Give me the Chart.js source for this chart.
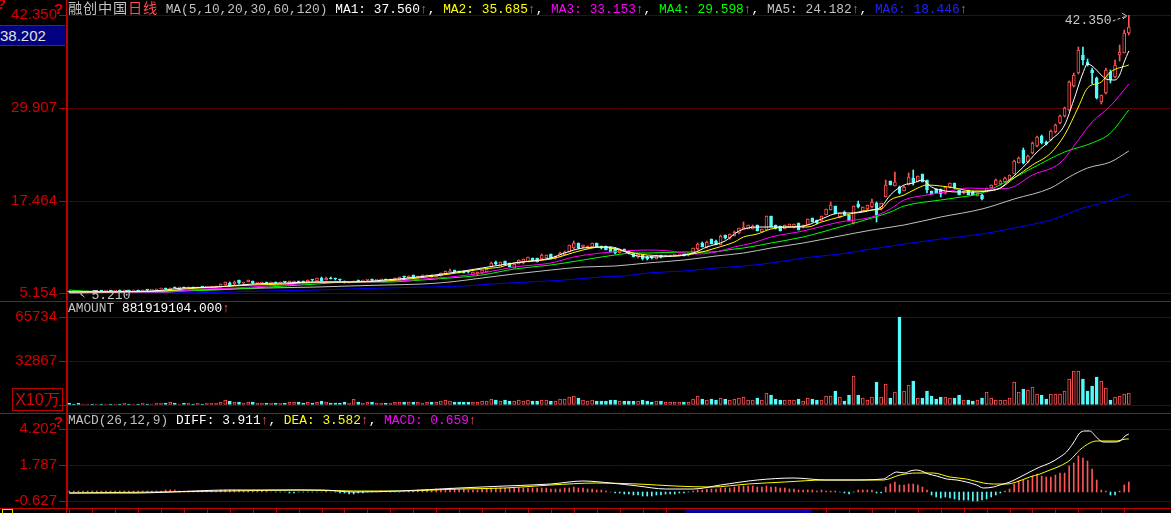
<!DOCTYPE html>
<html><head><meta charset="utf-8">
<script src="https://cdn.jsdelivr.net/npm/chart.js@4.4.1/dist/chart.umd.min.js"></script>
<style>
html,body{margin:0;padding:0;background:#000;}
body{width:1171px;height:513px;overflow:hidden;position:relative;}
canvas{position:absolute;left:0;}
.t{position:absolute;white-space:pre;font-size:12.85px;line-height:14px;font-family:"Liberation Mono","DejaVu Sans Mono",monospace;color:#c0c0c0;}
.cjk{font-family:"Noto Sans CJK SC";font-size:14.2px;letter-spacing:0.8px;}
.hl{position:absolute;left:0;width:1171px;height:1px;background:#c00000;}
.r{color:#ff5050}.w{color:#ffffff}.y{color:#ffff00}.m{color:#ff00ff}.g{color:#00ff00}.s{color:#c0c0c0}.b{color:#2020ff}
.q{position:absolute;color:#e00000;font:bold 15px "Liberation Sans";}
</style></head><body>
<canvas id="cMain" width="1171" height="301" style="top:0px"></canvas>
<canvas id="cVol" width="1171" height="112" style="top:301px"></canvas>
<canvas id="cMacd" width="1171" height="100" style="top:413px"></canvas>

<div class="hl" style="top:301px"></div>
<div class="hl" style="top:413px"></div>
<div class="hl" style="top:508px"></div>
<div style="position:absolute;left:66px;top:0;width:1px;height:513px;background:#c00000"></div>

<div class="t" style="left:68px;top:0px"><span class="cjk s">融创中国</span><span class="cjk r">日线</span><span class="s"> MA(5,10,20,30,60,120) </span><span class="w">MA1: 37.560</span><span class="r">↑</span><span class="w">, </span><span class="y">MA2: 35.685</span><span class="r">↑</span><span class="w">, </span><span class="m">MA3: 33.153</span><span class="r">↑</span><span class="w">, </span><span class="g">MA4: 29.598</span><span class="r">↑</span><span class="w">, </span><span class="s">MA5: 24.182</span><span class="r">↑</span><span class="w">, </span><span class="b">MA6: 18.446</span><span class="r">↑</span></div>
<div class="t" style="left:68px;top:302px"><span class="s">AMOUNT </span><span class="w">881919104.000</span><span class="r">↑</span></div>
<div class="t" style="left:68px;top:414px"><span class="s">MACD(26,12,9) </span><span class="w">DIFF: 3.911</span><span class="r">↑</span><span class="w">, </span><span class="y">DEA: 3.582</span><span class="r">↑</span><span class="w">, </span><span class="m">MACD: 0.659</span><span class="r">↑</span></div>

<div style="position:absolute;left:0;top:25px;width:65px;height:19px;background:#000080;border-top:1px solid #c00000;border-bottom:1px solid #c00000;color:#e0e0e0;font:15px 'Liberation Sans';line-height:19px;">38.202</div>
<div style="position:absolute;left:12px;top:388px;width:49px;height:21px;border:1px solid #c00000;color:#e00000;font:16px 'Liberation Sans';line-height:21px;text-align:center;">X10万</div>
<div class="q" style="left:-3px;top:-5px">?</div>
<div class="q" style="left:54px;top:0px">?</div>
<div class="q" style="left:54px;top:413px">?</div>
<div style="position:absolute;left:685px;top:509px;width:127px;height:4px;background:#0000a0"></div>
<div style="position:absolute;left:2px;top:509px;width:9px;height:6px;border:1px solid #e0e000"></div>
<div id="hiLab" class="t" style="font-size:13px;color:#c8c8c8"></div>
<div id="loLab" class="t" style="font-size:13px;color:#c8c8c8"></div>

<script>
// ---------------- DATA ----------------
const priceTicks = [42.350, 29.907, 17.464, 5.154];
const volTicks = [65734, 32867, 0];
const macdTicks = [4.202, 1.787, -0.627];

// daily candles [open, high, low, close]
const candles = [
[5.35,5.38,5.28,5.30],[5.30,5.34,5.24,5.28],[5.28,5.31,5.21,5.26],[5.26,5.35,5.25,5.33],[5.33,5.38,5.30,5.36],
[5.36,5.40,5.32,5.34],[5.34,5.42,5.33,5.40],[5.40,5.44,5.36,5.38],[5.38,5.45,5.37,5.43],[5.43,5.46,5.39,5.41],
[5.41,5.47,5.40,5.45],[5.45,5.50,5.42,5.44],[5.44,5.55,5.43,5.52],[5.52,5.56,5.46,5.48],[5.48,5.53,5.45,5.50],
[5.50,5.54,5.44,5.46],[5.46,5.55,5.45,5.53],[5.53,5.58,5.48,5.50],[5.50,5.60,5.49,5.58],[5.58,5.70,5.56,5.68],
[5.68,5.78,5.66,5.75],[5.75,5.78,5.68,5.70],[5.70,5.88,5.69,5.85],[5.85,5.90,5.80,5.83],[5.83,5.92,5.82,5.88],
[5.88,5.93,5.84,5.86],[5.86,5.95,5.85,5.91],[5.91,5.94,5.85,5.87],[5.87,5.98,5.86,5.95],[5.95,5.99,5.90,5.92],
[5.92,5.98,5.90,5.96],[5.96,6.02,5.92,5.98],[5.98,6.05,5.95,6.00],[6.00,6.35,5.98,6.32],[6.22,6.62,6.20,6.58],
[6.55,6.60,6.10,6.15],[6.30,6.70,6.28,6.67],[6.85,6.90,6.42,6.45],[6.45,6.60,6.42,6.55],[6.65,6.92,6.60,6.88],
[6.78,6.80,6.42,6.45],[6.45,6.55,6.40,6.50],[6.35,6.60,6.30,6.58],[6.58,6.62,6.48,6.52],[6.52,6.60,6.50,6.56],
[6.56,6.60,6.50,6.53],[6.53,6.62,6.52,6.60],[6.60,6.64,6.55,6.57],[6.40,6.80,6.38,6.76],[6.45,6.78,6.42,6.74],
[6.76,6.80,6.44,6.48],[6.74,6.78,6.55,6.60],[6.60,6.92,6.58,6.88],[6.88,6.95,6.82,6.85],[6.78,7.15,6.75,7.10],
[7.20,7.25,6.78,6.80],[6.90,7.25,6.88,7.22],[7.22,7.26,7.05,7.08],[7.08,7.12,6.95,6.98],[6.98,7.00,6.82,6.85],
[6.75,6.78,6.55,6.58],[6.50,6.66,6.45,6.62],[6.62,6.75,6.60,6.72],[6.88,6.90,6.74,6.76],[6.76,6.88,6.74,6.85],
[6.85,6.95,6.82,6.92],[7.02,7.05,6.82,6.85],[6.85,6.95,6.83,6.90],[6.90,6.98,6.86,6.95],[6.95,7.00,6.90,6.93],
[6.93,7.05,6.92,7.02],[6.90,7.15,6.88,7.12],[6.95,7.26,6.92,7.24],[7.40,7.45,7.20,7.24],[7.22,7.45,7.20,7.42],
[7.56,7.60,7.10,7.14],[7.12,7.48,7.10,7.43],[7.43,7.50,7.38,7.46],[7.40,7.55,7.38,7.50],[7.52,7.56,7.30,7.34],
[7.34,7.48,7.32,7.45],[7.43,7.82,7.40,7.79],[7.70,8.12,7.68,8.10],[8.00,8.32,7.98,8.10],[8.23,8.26,7.98,8.00],
[8.10,8.14,7.84,7.87],[8.10,8.12,7.85,7.87],[8.10,8.13,7.88,7.90],[7.56,8.02,7.54,8.00],[7.65,8.03,7.62,8.00],
[7.79,8.26,7.76,8.23],[8.00,8.40,7.98,8.37],[8.67,9.30,8.65,9.21],[9.34,9.40,8.95,8.99],[8.81,9.30,8.78,9.26],
[9.43,9.48,8.96,8.99],[9.13,9.16,8.62,8.67],[8.54,9.02,8.50,8.99],[9.03,9.60,9.00,9.57],[9.13,9.70,9.10,9.66],
[9.34,9.96,9.30,9.93],[9.79,9.84,9.45,9.48],[9.79,9.82,9.30,9.34],[9.66,10.40,9.62,10.24],[9.88,10.28,9.85,10.24],
[10.33,10.38,9.75,9.79],[9.79,10.14,9.76,10.10],[10.01,10.60,9.98,10.55],[10.24,10.72,10.20,10.68],[10.68,11.62,10.65,11.58],
[11.13,12.10,11.10,11.89],[11.80,11.90,11.08,11.13],[11.27,11.58,11.22,11.53],[11.13,11.50,11.10,11.44],[11.27,11.85,11.24,11.80],
[11.80,11.86,11.30,11.35],[11.44,11.48,11.08,11.13],[11.44,11.50,10.86,10.91],[11.27,11.32,10.62,10.68],[11.13,11.18,10.40,10.46],
[10.55,11.05,10.50,11.00],[11.00,11.04,10.72,10.77],[10.77,10.80,10.42,10.46],[10.46,10.50,9.96,10.01],[9.93,10.38,9.90,10.33],
[10.24,10.28,9.60,9.66],[10.01,10.06,9.62,9.66],[10.10,10.14,9.74,9.79],[9.74,10.30,9.70,10.24],[10.24,10.28,9.88,9.93],
[10.10,10.20,10.05,10.15],[10.10,10.24,10.06,10.20],[10.20,10.30,10.15,10.25],[10.20,10.34,10.16,10.30],[10.37,10.40,10.06,10.10],
[10.20,10.40,10.16,10.35],[10.55,11.18,10.50,11.13],[11.00,11.90,10.96,11.71],[11.89,11.95,11.30,11.35],[11.27,12.08,11.22,12.02],
[12.34,12.40,11.66,11.71],[12.15,12.20,11.52,11.58],[11.58,12.90,11.54,12.84],[12.91,12.96,12.42,12.47],[12.47,13.10,12.42,13.05],
[12.78,13.40,12.74,13.32],[13.14,13.86,13.10,13.81],[13.72,14.70,13.68,14.03],[13.72,14.30,13.68,14.25],[13.72,14.20,13.68,14.16],
[14.25,14.30,13.40,13.45],[13.36,13.76,13.32,13.72],[13.58,15.50,13.54,15.46],[15.46,15.52,13.98,14.03],[14.25,14.30,13.76,13.81],
[14.12,14.16,13.44,13.49],[13.72,14.30,13.68,14.25],[14.03,14.40,14.00,14.35],[13.94,14.40,13.90,14.35],[14.48,14.52,13.54,13.58],
[13.94,14.20,13.90,14.16],[14.25,15.06,14.20,15.02],[15.15,15.20,14.66,14.70],[14.92,14.96,14.44,14.48],[14.83,15.50,14.80,15.46],
[15.59,16.40,15.55,16.35],[16.26,17.30,16.22,16.93],[16.79,16.84,15.68,15.73],[15.28,15.86,15.24,15.82],[16.03,16.08,15.54,15.59],
[15.59,15.64,14.78,14.83],[14.48,16.84,14.44,16.79],[17.06,17.40,16.58,16.62],[16.17,16.66,16.12,16.62],[16.35,16.98,16.30,16.93],
[16.62,17.70,16.58,17.37],[17.24,17.30,14.70,15.59],[16.35,17.20,16.30,17.15],[18.04,20.27,18.00,19.60],[20.14,20.20,19.56,19.60],
[19.51,21.38,19.46,20.05],[19.38,19.45,18.45,18.60],[18.80,19.42,18.76,19.38],[19.60,21.17,19.56,20.72],[20.50,21.61,19.60,19.83],
[20.05,20.86,20.00,20.81],[21.03,21.10,20.00,20.05],[20.27,20.32,18.58,18.93],[18.80,18.85,18.36,18.40],[19.03,19.08,18.54,18.58],
[19.03,19.08,18.04,18.40],[18.49,19.34,18.45,19.29],[19.29,19.88,19.25,19.83],[19.83,19.88,19.12,19.16],[18.93,18.98,18.22,18.27],
[18.49,18.85,18.45,18.80],[18.93,18.98,18.22,18.27],[18.70,18.75,18.22,18.27],[18.13,18.54,18.10,18.49],[18.30,18.35,17.60,17.70],
[18.70,19.25,18.65,19.20],[19.20,19.65,19.15,19.60],[19.60,20.35,19.55,20.30],[19.70,20.25,19.65,20.20],[20.00,20.65,19.95,20.60],
[20.30,20.95,20.25,20.90],[21.10,22.90,21.05,22.80],[22.60,23.30,22.50,23.20],[24.30,24.60,22.40,22.50],[22.70,23.60,22.60,23.50],
[23.90,25.30,23.80,25.20],[24.80,26.20,24.70,26.00],[26.20,26.30,25.10,25.20],[25.40,25.50,25.00,25.10],[25.60,26.90,25.50,26.80],
[26.70,27.70,26.60,27.60],[27.90,29.00,27.80,28.90],[28.80,30.00,28.70,29.90],[29.60,33.50,29.50,33.40],[32.90,34.60,32.70,34.30],
[34.60,38.10,34.40,37.70],[37.00,38.10,35.70,36.30],[36.10,36.40,35.50,35.70],[35.00,35.20,33.10,34.60],[33.90,34.10,31.10,31.30],
[30.70,31.70,30.40,31.60],[31.90,35.20,31.80,35.00],[34.70,35.00,33.20,33.70],[34.00,36.30,33.90,35.70],[37.00,38.30,36.20,37.40],
[37.30,40.40,37.20,39.90],[39.90,42.35,39.70,40.70]
];

// turnover (x10万)
const amount = [
1200,900,1500,800,700,900,1100,800,700,1000,
800,900,1300,900,700,1000,1200,800,900,1500,
1800,1200,2000,1300,1100,1500,1200,1000,1400,1100,
1200,1500,1300,2500,3700,2800,2500,2000,1800,2200,
2300,1500,1800,1400,1200,1300,1500,1200,2500,2200,
2000,1800,2000,1700,2600,3000,2500,1800,1500,1400,
2200,1800,4500,2500,1800,2000,2200,1600,1500,1400,
1800,2200,2500,2000,2200,2600,2400,1800,2000,1900,
2000,3000,3500,2800,2200,2000,1900,2000,2500,2400,
2800,3000,4500,3500,3200,3800,3000,2800,3500,3300,
3500,3000,2800,4000,3500,3000,3200,4500,4200,6000,
6500,5000,3500,3200,3800,3000,2800,3000,3500,3800,
3200,2800,3000,3300,3000,3500,3000,2500,2800,2700,
2200,2000,2200,2000,2500,2300,4500,6500,4500,4000,
4200,3800,5500,4200,4000,4200,5000,6000,4000,3800,
5000,3500,9000,7500,4500,4000,3800,3500,3600,4500,
3200,5500,4500,4000,3510,6500,7000,10230,5750,2760,
7250,21440,7250,5000,3510,5750,16960,5750,15460,5000,
9490,66000,10230,14720,17700,5000,5000,10230,6500,4260,
5750,5750,5000,5000,7250,3510,3510,2760,3510,5000,
9490,5000,3510,3510,3510,5000,16960,9490,11730,10980,
13220,7990,7250,4260,7990,7990,7990,10230,19200,25170,
25170,19200,10230,13970,20690,17700,12470,3510,5750,6500,
7990,8740
];

// MACD histogram
const macdHist = [
0.02,0.03,0.02,0.03,0.04,0.03,0.03,0.04,0.03,0.02,0.03,0.04,0.05,0.04,0.03,0.04,0.05,0.04,0.05,0.06,
0.07,0.08,0.09,0.08,0.07,0.06,0.06,0.05,0.05,0.04,0.04,0.05,0.06,0.08,0.10,0.10,0.09,0.08,0.07,0.06,0.05,0.04,0.03,0.02,0.01,
-0.02,-0.04,-0.05,-0.06,-0.06,-0.05,-0.04,-0.03,-0.02,-0.01,0.01,0.02,0.01,-0.03,-0.08,-0.12,-0.14,-0.13,-0.12,-0.08,-0.05,-0.03,
0.00,0.02,0.01,-0.02,-0.04,-0.02,0.01,0.04,0.06,0.08,0.10,0.12,
0.14,0.16,0.18,0.20,0.22,0.20,0.18,0.15,0.13,0.12,0.14,0.16,0.20,0.24,0.25,0.26,0.24,0.22,0.22,0.24,0.25,
0.26,0.24,0.22,0.23,0.22,0.20,0.19,0.20,0.22,0.28,0.32,0.28,0.24,0.20,0.18,0.14,0.10,0.05,0.00,-0.06,
-0.10,-0.14,-0.18,-0.22,-0.24,-0.26,-0.27,-0.26,-0.24,-0.22,-0.19,-0.16,-0.13,-0.10,-0.07,-0.03,
0.04,0.10,0.14,0.18,0.20,0.20,0.24,0.26,0.28,0.32,0.35,0.37,0.38,0.36,0.34,0.33,0.36,0.34,0.30,0.26,0.22,0.20,0.18,0.14,0.10,0.10,0.08,0.06,0.08,0.07,0.04,0.02,-0.05,-0.10,
-0.16,-0.05,0.11,0.09,0.11,0.11,-0.09,-0.09,0.32,0.52,0.68,0.45,0.47,0.52,0.52,0.45,0.32,0.14,-0.23,-0.34,
-0.41,-0.38,-0.45,-0.50,-0.54,-0.56,-0.59,-0.61,-0.61,-0.59,-0.50,-0.38,-0.23,-0.09,0.07,0.18,0.52,0.74,0.81,0.81,
1.04,1.19,1.08,0.97,1.01,1.13,1.24,1.26,1.76,1.94,2.39,2.30,2.10,1.53,0.81,0.14,0.02,-0.20,-0.20,0.07,
0.45,0.66
];

// DIFF / DEA read at sample days
const diffX = [0,15,22,35,45,55,62,72,85,95,105,112,118,124,130,136,142,150,158,165,170,177.5,179,180.4,182.2,183.3,184.7,185.8,187.3,189.1,191.3,193.5,195.6,197.8,199.3,201.5,202.9,205.1,207.3,209.4,211.6,213.8,216,217.4,218.9,220.3,221.4,222.5,223.9,225.4,227.6,229.1,230.2,231];
const diffY = [-0.12,-0.10,0.0,0.12,0.10,0.08,-0.05,0.05,0.25,0.40,0.55,0.72,0.60,0.35,0.20,0.20,0.45,0.80,0.90,0.80,0.77,0.88,1.15,1.31,1.27,1.40,1.49,1.40,1.22,1.04,0.88,0.82,0.66,0.43,0.28,0.32,0.43,0.66,1.00,1.33,1.67,1.94,2.35,2.69,3.25,3.93,4.11,4.11,3.70,3.36,3.32,3.41,3.77,3.91];
const deaX = [0,20,35,50,62,72,85,95,105,115,124,132,140,148,156,165,170.2,177.5,181.1,184.7,188.4,192,195.6,199.3,201.5,204.4,206.5,209.4,211.6,213.8,216,218.2,220.3,222.5,224,226.9,228.3,230.5,231];
const deaY = [-0.12,-0.05,0.07,0.09,0.02,0.03,0.15,0.28,0.43,0.58,0.50,0.35,0.32,0.50,0.68,0.78,0.82,0.82,1.11,1.29,1.27,1.00,0.88,0.61,0.50,0.50,0.66,1.00,1.22,1.45,1.72,2.12,2.80,3.25,3.43,3.43,3.43,3.52,3.58];

// moving averages read at sample days
const ma1X = [0,18,25,32,40,47,54,61,69,76,83,90,94,97,105,108,112,118,123,126,132,136,139,143,146,150,153,157,161,164,168,171,175,177,179,182,184,186,188,191,194,198,200,203,205,208,211,214,217,219,221,222,223,225,226,228,229,230,231];
const ma1Y = [5.33,5.42,5.78,6.0,6.32,6.45,6.58,6.67,6.89,7.3,7.87,8.46,8.9,9.21,9.79,10.46,11.13,11.27,10.24,9.93,10.1,10.55,11.27,12.15,13.4,14.03,14.03,14.03,14.25,15.02,15.9,15.9,16.26,16.7,18.27,19.6,19.9,20.27,19.38,18.84,18.71,18.7,18.8,19.16,20.27,22.06,24.06,25.63,27.63,30.98,34.55,35.79,35.53,34.32,33.74,33.65,34.32,36.1,37.56];
const ma2X = [0,21,25,32,40,47,54,61,69,76,83,90,94,97,105,112,116,119,123,126,132,137,141,145,147,150,153,157,161,164,168,171,175,177,179,182,185,187,190,193,197,200,203,206,210,214,217,220,222,225,227,231];
const ma2Y = [5.33,5.46,5.64,5.91,6.22,6.4,6.58,6.67,6.8,7.15,7.7,8.32,8.67,9.13,9.66,10.91,11.27,11.0,10.55,10.24,10.1,10.46,11.13,12.02,12.6,13.1,13.72,14.03,14.03,14.7,15.28,15.82,16.26,16.35,17.6,18.27,19.16,19.6,19.47,19.16,18.75,18.8,19.2,20.6,22.3,23.85,26.29,30.08,32.54,33.43,34.77,35.69];
const ma3X = [0,21,29,36,43,50,58,65,72,77,83,90,97,105,110,116,121,126,131,134,137,141,145,149,153,160,168,175,179,182,187,191,196,201,205,210,216,220,223,227,231];
const ma3Y = [5.26,5.33,5.64,5.87,6.09,6.32,6.58,6.67,6.8,7.0,7.34,7.87,8.67,9.21,9.93,10.55,10.81,10.86,10.77,10.46,10.37,10.68,11.35,11.9,12.6,13.45,14.7,15.28,16.39,17.6,18.27,18.71,19.2,19.03,19.16,20.94,22.5,25.63,28.07,30.17,33.15];
const ma4X = [0,3,10,21,25,32,40,47,54,61,69,77,83,90,97,105,112,116,119,123,126,134,140,145,147,153,160,168,175,179,182,190,193,199,205,210,217,223,227,231];
const ma4Y = [5.5,5.45,5.26,5.33,5.42,5.55,5.87,6.09,6.32,6.58,6.67,6.88,7.1,7.56,8.32,8.9,9.57,10.0,10.24,10.46,10.55,10.59,10.7,11.0,11.15,11.8,12.6,14.03,15.15,16.03,16.79,17.6,17.9,18.5,20.27,21.84,24.06,25.18,26.52,29.6];
const ma5X = [0,14,21,34,43,54,61,69,77,83,90,97,105,112,119,126,134,141,147,153,160,168,175,182,190,199,206,214,218,222,227,231];
const ma5Y = [5.22,5.33,5.42,5.64,5.78,5.91,6.09,6.22,6.42,6.63,7.1,7.7,8.23,8.59,8.81,9.21,9.57,10.1,10.55,11.13,11.8,12.78,13.58,14.25,15.3,16.4,17.69,19.16,20.72,21.84,22.72,24.18];
const ma6X = [0,21,36,43,54,61,69,78,86,92,100,108,116,121,126,134,141,147,153,160,168,175,182,190,199,206,214,221,226,231];
const ma6Y = [5.15,5.22,5.33,5.42,5.55,5.69,5.87,6.0,6.1,6.3,6.56,6.87,7.23,7.48,7.79,8.1,8.46,8.7,9.2,9.8,10.37,11.0,11.67,12.34,13.1,13.81,14.92,16.49,17.37,18.45];

// ---------------- CHARTS ----------------
const RED = '#ff5454', CYAN = '#54fcfc';
const X_MIN = -0.5, X_MAX = 240.2;
const N = candles.length;
const isUp = candles.map(c => c[3] >= c[0]);

function pts(xs, ys){ return xs.map((x,k)=>({x:x, y:ys[k]})); }
function lineDs(xs, ys, color){
  return {type:'line', data:pts(xs,ys), borderColor:color, borderWidth:1, pointRadius:0,
          cubicInterpolationMode:'monotone', order:0};
}
function opts(yMin, yMax, tickVals, fmt, padTop, padBottom){
  return {
    responsive:false, animation:false, devicePixelRatio:1,
    layout:{padding:{top:padTop, bottom:padBottom, left:0, right:0}},
    plugins:{legend:{display:false}, tooltip:{enabled:false}},
    scales:{
      x:{type:'linear', min:X_MIN, max:X_MAX, display:false, offset:false},
      y:{position:'left', min:yMin, max:yMax, alignToPixels:true,
         afterFit(s){ s.width = 67; s.paddingTop = 0; s.paddingBottom = 0; },
         afterBuildTicks(s){ s.ticks = tickVals.slice().sort((a,b)=>a-b).map(v => ({value:v})); },
         ticks:{color:'#d40000', font:{family:'Liberation Sans', size:15}, padding:2, autoSkip:false, callback:fmt},
         grid:{color:'#560000', tickColor:'#c00000', tickLength:8, drawTicks:true, lineWidth:1},
         border:{color:'#c00000', width:1}
      }
    }
  };
}

// main price chart
const mainChart = new Chart(document.getElementById('cMain'), {
  type:'bar',
  data:{datasets:[
    lineDs(ma1X, ma1Y, '#ffffff'),
    lineDs(ma2X, ma2Y, '#ffff00'),
    lineDs(ma3X, ma3Y, '#ff00ff'),
    lineDs(ma4X, ma4Y, '#00ff00'),
    lineDs(ma5X, ma5Y, '#c0c0c0'),
    lineDs(ma6X, ma6Y, '#0000ff'),
    {type:'bar', data:candles.map((c,i)=>({x:i, y:[c[0], c[3]]})), barThickness:3, minBarLength:1,
     borderWidth:1, borderSkipped:false, grouped:false, order:1,
     backgroundColor:isUp.map(u => u ? '#000000' : CYAN), borderColor:isUp.map(u => u ? RED : CYAN)},
    {type:'bar', data:candles.map((c,i)=>({x:i, y:[c[2], c[1]]})), barThickness:1, borderWidth:0,
     grouped:false, order:2, backgroundColor:isUp.map(u => u ? RED : CYAN)}
  ]},
  options: opts(4.217, 42.35, priceTicks, v => Number(v).toFixed(3), 15, 1),
  plugins:[{id:'hiArrow', afterDatasetsDraw(ch){
    const sx = ch.scales.x, sy = ch.scales.y, ctx = ch.ctx;
    let hi = 0, lo = 0;
    candles.forEach((c,i)=>{ if (c[1] > candles[hi][1]) hi = i; if (c[2] < candles[lo][2]) lo = i; });
    const px = sx.getPixelForValue(hi), py = sy.getPixelForValue(candles[hi][1]);
    ctx.save(); ctx.strokeStyle = '#c8c8c8'; ctx.lineWidth = 1;
    ctx.setLineDash([3,2]); ctx.beginPath(); ctx.moveTo(px-16, py+6); ctx.lineTo(px-2, py+1); ctx.stroke();
    ctx.setLineDash([]); ctx.beginPath(); ctx.moveTo(px-7, py-2); ctx.lineTo(px-2, py+1); ctx.lineTo(px-6, py+4); ctx.stroke();
    const lx = sx.getPixelForValue(lo), ly = sy.getPixelForValue(candles[lo][2]);
    ctx.beginPath(); ctx.moveTo(lx+2, ly+1); ctx.lineTo(lx+6, ly+4); ctx.moveTo(lx+2, ly+1); ctx.lineTo(lx+4, ly+1); ctx.stroke();
    ctx.restore();
  }}]
});

// amount chart
const volChart = new Chart(document.getElementById('cVol'), {
  type:'bar',
  data:{datasets:[
    {data:amount.map((v,i)=>({x:i, y:v})), barThickness:3, borderWidth:1, borderSkipped:false, grouped:false,
     backgroundColor:isUp.map(u => u ? '#000000' : CYAN), borderColor:isUp.map(u => u ? RED : CYAN)}
  ]},
  options: opts(-5229, 76941, volTicks, v => (v === 0 ? '' : String(v)), 1, 1)
});

// MACD chart
const macdChart = new Chart(document.getElementById('cMacd'), {
  type:'bar',
  data:{datasets:[
    lineDs(diffX, diffY, '#ffffff'),
    lineDs(deaX, deaY, '#ffff00'),
    {type:'bar', data:macdHist.map((v,i)=>({x:i, y:v})), barThickness:1, borderWidth:0, grouped:false, order:1,
     backgroundColor:macdHist.map(v => v >= 0 ? RED : CYAN)}
  ]},
  options: opts(-1.101, 5.237, macdTicks, v => Number(v).toFixed(3), 1, 5),
  plugins:[{id:'dayTicks', afterDraw(ch){
    const sx = ch.scales.x, ctx = ch.ctx, b = ch.chartArea.bottom;
    ctx.save(); ctx.strokeStyle = '#c00000'; ctx.lineWidth = 1; ctx.beginPath();
    for (let i = 0; i < N; i += 5){ const x = Math.round(sx.getPixelForValue(i)) + 0.5; ctx.moveTo(x, b); ctx.lineTo(x, b + 5); }
    ctx.stroke(); ctx.restore();
  }}]
});

// text annotations for highest / lowest price
(function(){
  const sx = mainChart.scales.x, sy = mainChart.scales.y;
  let hi = 0, lo = 0;
  candles.forEach((c,i)=>{ if (c[1] > candles[hi][1]) hi = i; if (c[2] < candles[lo][2]) lo = i; });
  const hl = document.getElementById('hiLab');
  hl.textContent = candles[hi][1].toFixed(3);
  hl.style.top = (sy.getPixelForValue(candles[hi][1]) - 1) + 'px';
  hl.style.left = (sx.getPixelForValue(hi) - 17 - 47) + 'px';
  const ll = document.getElementById('loLab');
  ll.textContent = candles[lo][2].toFixed(3);
  ll.style.top = (sy.getPixelForValue(candles[lo][2]) - 4) + 'px';
  ll.style.left = (sx.getPixelForValue(lo) + 13) + 'px';
})();
</script>
</body></html>
